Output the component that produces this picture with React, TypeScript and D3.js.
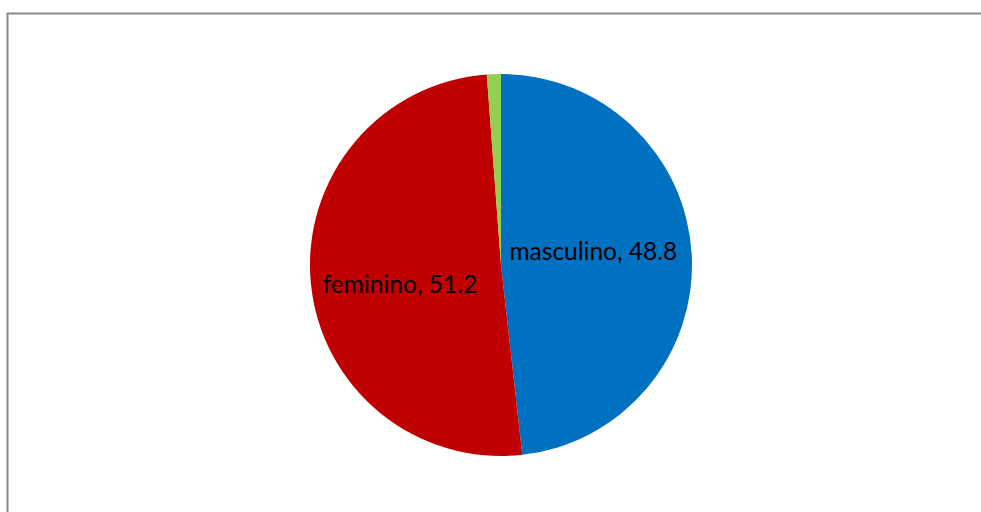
import React from "react";
import * as d3 from "d3";

const categories = ["masculino", "feminino", "outro"];
const values = [48.8, 51.2, 1.2];
const colors = ["#0070C0", "#C00000", "#92D050"];
const showLabel = [true, true, false];

// layout tweaks for label placement (pixels)
const LABEL_NUDGE: Record<string, [number, number]> = {
  masculino: [-3, -6],
  feminino: [-6, 13],
};

export default function App() {
  const W = 981, H = 512;
  const cx = 501, cy = 265, r = 191;
  const pie = d3.pie<number>().sort(null).value((d) => d);
  const arcs = pie(values);
  const arc = d3.arc<d3.PieArcDatum<number>>().innerRadius(0).outerRadius(r);
  const labelArc = d3.arc<d3.PieArcDatum<number>>().innerRadius(r * 0.5).outerRadius(r * 0.5);
  return (
    <svg width={W} height={H} style={{ position: "absolute", left: 0, top: 0 }}>
      <rect x={0} y={0} width={W} height={H} fill="#fff" />
      <rect x={7.5} y={13.5} width={W + 10} height={H + 10} fill="none" stroke="#888" strokeWidth={2} />
      <g transform={`translate(${cx},${cy})`}>
        {arcs.map((a, i) => (
          <path key={categories[i]} d={arc(a) || ""} fill={colors[i]} />
        ))}
        {arcs.map((a, i) => {
          if (!showLabel[i]) return null;
          const [lx, ly] = labelArc.centroid(a);
          const [nx, ny] = LABEL_NUDGE[categories[i]] || [0, 0];
          return (
            <text key={"l" + i} x={lx + nx} y={ly + ny} textAnchor="middle" dominantBaseline="middle"
              fontFamily="Lato, 'Open Sans', sans-serif" fontSize={24.5} fill="#000">
              {`${categories[i]}, ${values[i]}`}
            </text>
          );
        })}
      </g>
    </svg>
  );
}
